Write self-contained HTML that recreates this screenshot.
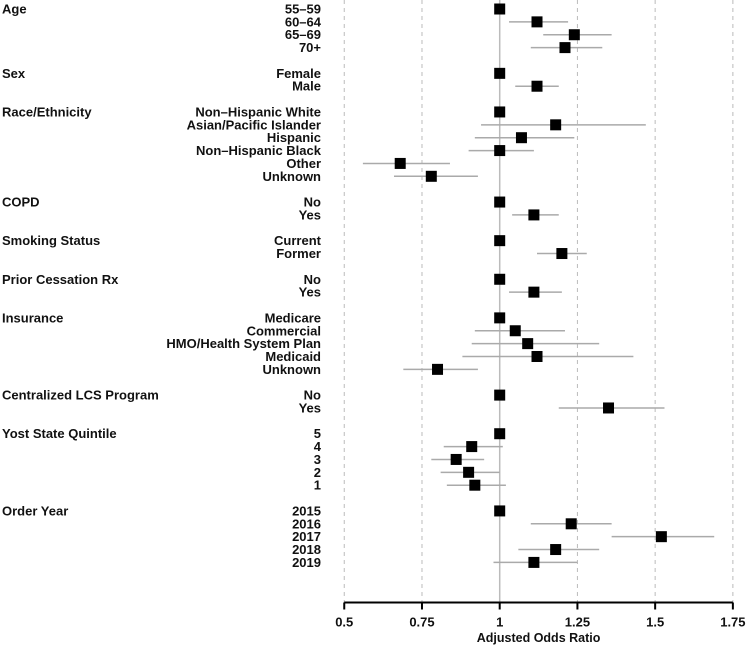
<!DOCTYPE html>
<html><head><meta charset="utf-8"><style>
body{margin:0;background:#fff;}
svg{display:block;font-family:"Liberation Sans",Arial,sans-serif;}
</style></head><body>
<svg id="chart" width="749" height="651" viewBox="0 0 749 651"></svg>
<script>
const groups=["Age","Sex","Race/Ethnicity","COPD","Smoking Status","Prior Cessation Rx","Insurance","Centralized LCS Program","Yost State Quintile","Order Year"];
const groupRows=[0,5,8,15,18,21,24,30,33,39];
const labels=["55–59","60–64","65–69","70+","","Female","Male","","Non–Hispanic White","Asian/Pacific Islander","Hispanic","Non–Hispanic Black","Other","Unknown","","No","Yes","","Current","Former","","No","Yes","","Medicare","Commercial","HMO/Health System Plan","Medicaid","Unknown","","No","Yes","","5","4","3","2","1","","2015","2016","2017","2018","2019"];
const estimates=[1,1.12,1.24,1.21,null,1,1.12,null,1,1.18,1.07,1,0.68,0.78,null,1,1.11,null,1,1.20,null,1,1.11,null,1,1.05,1.09,1.12,0.80,null,1,1.35,null,1,0.91,0.86,0.90,0.92,null,1,1.23,1.52,1.18,1.11];
const lower=[null,1.03,1.14,1.10,null,null,1.05,null,null,0.94,0.92,0.90,0.56,0.66,null,null,1.04,null,null,1.12,null,null,1.03,null,null,0.92,0.91,0.88,0.69,null,null,1.19,null,null,0.82,0.78,0.81,0.83,null,null,1.10,1.36,1.06,0.98];
const upper=[null,1.22,1.36,1.33,null,null,1.19,null,null,1.47,1.24,1.11,0.84,0.93,null,null,1.19,null,null,1.28,null,null,1.20,null,null,1.21,1.32,1.43,0.93,null,null,1.53,null,null,1.01,0.95,1.00,1.02,null,null,1.36,1.69,1.32,1.25];
const ticks=[0.5,0.75,1,1.25,1.5,1.75];
const tickLabels=["0.5","0.75","1","1.25","1.5","1.75"];

const NS="http://www.w3.org/2000/svg";
const svg=document.getElementById("chart");
const x=v=>499.7+(v-1)*310.9;
const y=i=>9+i*12.87;
function mk(t,a,p){const e=document.createElementNS(NS,t);for(const k in a)e.setAttribute(k,a[k]);(p||svg).appendChild(e);return e;}
const axisY=602.5;
ticks.forEach((t,i)=>{
  if(t===1){const l=mk("line",{x1:x(t),x2:x(t),y1:0,y2:axisY,stroke:"#bbb","stroke-width":1.5});
    
    }
  else{const l=mk("line",{x1:x(t),x2:x(t),y1:0,y2:axisY,stroke:"#bbb","stroke-width":1,"stroke-dasharray":"4,4"});
    
    }
  const tk=mk("line",{x1:x(t),x2:x(t),y1:axisY,y2:axisY+7,stroke:"#000","stroke-width":2});
  
  
  const tl=mk("text",{x:x(t),y:axisY+24,"text-anchor":"middle","font-size":13,"font-weight":"bold",fill:"#111"});
  tl.textContent=tickLabels[i];
  
  
});
const ax=mk("line",{x1:x(0.5),x2:x(1.75),y1:axisY,y2:axisY,stroke:"#000","stroke-width":2});


const at=mk("text",{x:x(1.125),y:642,"text-anchor":"middle","font-size":12.5,"font-weight":"bold",fill:"#111"});
at.textContent="Adjusted Odds Ratio";


groups.forEach((g,i)=>{
  const t=mk("text",{x:2,y:y(groupRows[i])+4.5,"font-size":13,"font-weight":"bold",fill:"#111"});
  t.textContent=g;
  
  
});
labels.forEach((lb,i)=>{
  if(!lb)return;
  const t=mk("text",{x:321,y:y(i)+4.5,"text-anchor":"end","font-size":13,"font-weight":"bold",fill:"#111"});
  t.textContent=lb;
  
  
});
estimates.forEach((v,i)=>{
  if(v===null)return;
  if(lower[i]!==null){
    const c=mk("line",{x1:x(lower[i]),x2:x(upper[i]),y1:y(i),y2:y(i),stroke:"#aaa","stroke-width":1.5});
    
    
  }
  const r=mk("rect",{x:x(v)-5.5,y:y(i)-5.5,width:11,height:11,fill:"#000"});
  
  
});
</script>
</body></html>
